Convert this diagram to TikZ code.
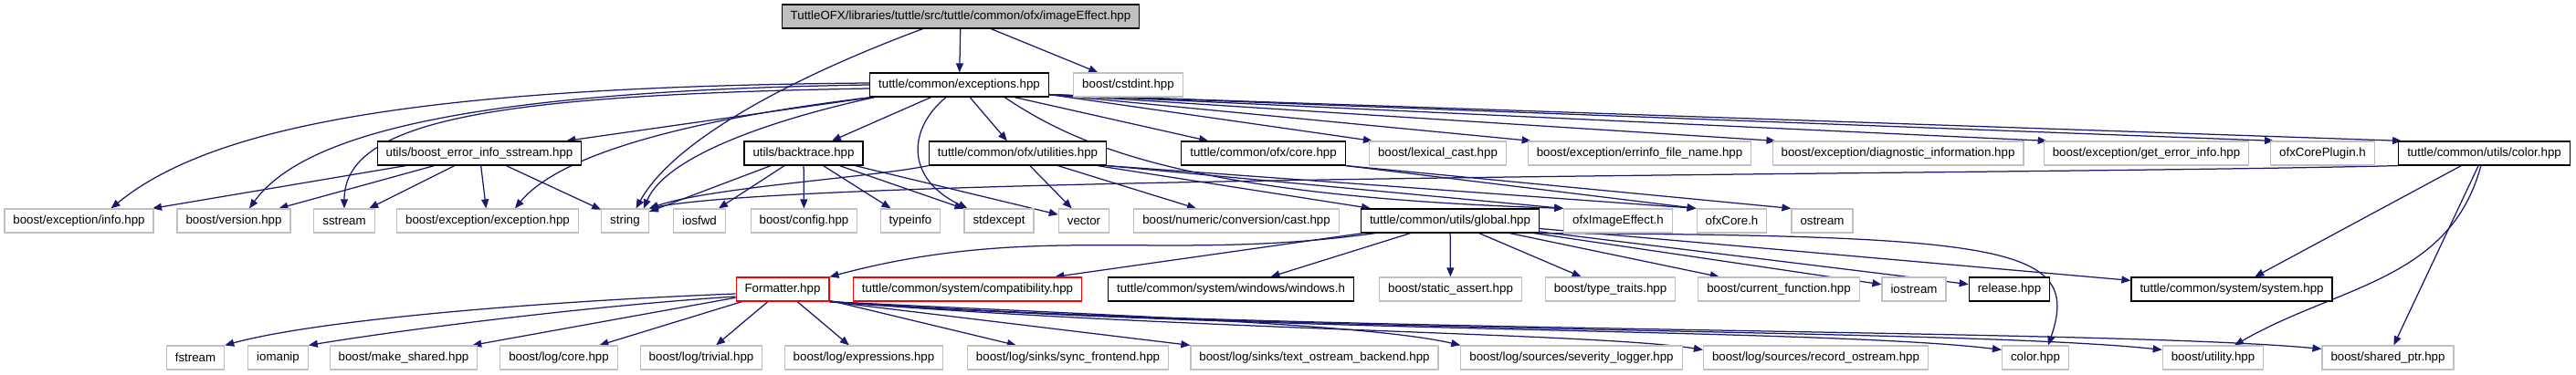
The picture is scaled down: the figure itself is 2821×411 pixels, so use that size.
\documentclass[tikz,border=0pt]{standalone}
\usepackage{fontspec}
\setmainfont{Liberation Sans}
\usetikzlibrary{positioning, arrows.meta, backgrounds}
\definecolor{edgeblue}{HTML}{191970}
\definecolor{extgrey}{HTML}{BFBFBF}

\begin{document}
\begin{tikzpicture}[
    x=1pt, y=-1pt,
    file/.style={rectangle, draw, line width=1.2pt, minimum height=26pt, inner xsep=9.5pt, inner ysep=0pt, fill=white, font=\fontsize{13.3}{15}\selectfont},
    main_file/.style={file, draw=black, fill=extgrey},
    doc_file/.style={file, draw=black},
    warn_file/.style={file, draw=red},
    ext_file/.style={file, draw=extgrey},
    dep_edge/.style={-{Triangle[length=10pt, width=8pt]}, draw=edgeblue, line width=1.25pt}
]
\useasboundingbox (0,0) rectangle (2821,411);

% row 1 and 2
\node[main_file] (main) at (1052,18) {TuttleOFX/libraries/tuttle/src/tuttle/common/ofx/imageEffect.hpp};
\node[doc_file] (exc) at (1050.5,93) {tuttle/common/exceptions.hpp};
\node[ext_file] (cstdint) at (1235.5,93) {boost/cstdint.hpp};

% row 3
\node[doc_file] (beis) at (525,168) {utils/boost\_error\_info\_sstream.hpp};
\node[doc_file] (bt) at (880,168) {utils/backtrace.hpp};
\node[doc_file] (util) at (1114.5,168) {tuttle/common/ofx/utilities.hpp};
\node[doc_file] (core) at (1383.5,168) {tuttle/common/ofx/core.hpp};
\node[ext_file] (lexcast) at (1574.5,168) {boost/lexical\_cast.hpp};
\node[ext_file] (errinfo) at (1795.5,168) {boost/exception/errinfo\_file\_name.hpp};
\node[ext_file] (diag) at (2078.5,168) {boost/exception/diagnostic\_information.hpp};
\node[ext_file] (geterr) at (2350.5,168) {boost/exception/get\_error\_info.hpp};
\node[ext_file] (plugin) at (2543.5,168) {ofxCorePlugin.h};
\node[doc_file] (color) at (2720.5,168) {tuttle/common/utils/color.hpp};

% row 4
\node[ext_file] (info) at (86.5,242) {boost/exception/info.hpp};
\node[ext_file] (version) at (256,242) {boost/version.hpp};
\node[ext_file] (sstream) at (377,242) {sstream};
\node[ext_file] (exception) at (534,242) {boost/exception/exception.hpp};
\node[ext_file] (string) at (684.5,242) {string};
\node[ext_file] (iosfwd) at (766,242) {iosfwd};
\node[ext_file] (config) at (880.5,242) {boost/config.hpp};
\node[ext_file] (typeinfo) at (997,242) {typeinfo};
\node[ext_file] (stdexcept) at (1094,242) {stdexcept};
\node[ext_file] (vector) at (1187,242) {vector};
\node[ext_file] (cast) at (1354,242) {boost/numeric/conversion/cast.hpp};
\node[doc_file] (global) at (1588,242) {tuttle/common/utils/global.hpp};
\node[ext_file] (imgfx) at (1772,242) {ofxImageEffect.h};
\node[ext_file] (ofxcore) at (1896.5,242) {ofxCore.h};
\node[ext_file] (ostream) at (1995.5,242) {ostream};

% row 5
\node[warn_file] (formatter) at (857,317) {Formatter.hpp};
\node[warn_file] (compat) at (1059.5,317) {tuttle/common/system/compatibility.hpp};
\node[doc_file] (windows) at (1348,317) {tuttle/common/system/windows/windows.h};
\node[ext_file] (sassert) at (1588.5,317) {boost/static\_assert.hpp};
\node[ext_file] (ttraits) at (1763.5,317) {boost/type\_traits.hpp};
\node[ext_file] (curfun) at (1948,317) {boost/current\_function.hpp};
\node[ext_file] (iostream) at (2096,317) {iostream};
\node[doc_file] (release) at (2200.5,317) {release.hpp};
\node[doc_file] (system) at (2444,317) {tuttle/common/system/system.hpp};

% row 6
\node[ext_file] (fstream) at (214,392) {fstream};
\node[ext_file] (iomanip) at (304.5,392) {iomanip};
\node[ext_file] (mkshared) at (442,392) {boost/make\_shared.hpp};
\node[ext_file] (logcore) at (612,392) {boost/log/core.hpp};
\node[ext_file] (trivial) at (768,392) {boost/log/trivial.hpp};
\node[ext_file] (expr) at (946,392) {boost/log/expressions.hpp};
\node[ext_file] (syncfe) at (1169.5,392) {boost/log/sinks/sync\_frontend.hpp};
\node[ext_file] (textbe) at (1439.5,392) {boost/log/sinks/text\_ostream\_backend.hpp};
\node[ext_file] (sevlog) at (1721,392) {boost/log/sources/severity\_logger.hpp};
\node[ext_file] (recostr) at (1988.5,392) {boost/log/sources/record\_ostream.hpp};
\node[ext_file] (colorh) at (2229,392) {color.hpp};
\node[ext_file] (utility) at (2423.5,392) {boost/utility.hpp};
\node[ext_file] (sharedptr) at (2615,392) {boost/shared\_ptr.hpp};

\begin{scope}[on background layer]
% main file
\draw[dep_edge] (main) -- (exc);
\draw[dep_edge] (main) -- (cstdint);
\draw[dep_edge] ([xshift=155pt]main.south west) .. controls (880,80) and (740,150) .. ([xshift=12pt]string.north);

% exceptions.hpp
\draw[dep_edge] ([yshift=2pt]exc.west) .. controls (450,95) and (230,140) .. ([xshift=35pt]info.north);
\draw[dep_edge] (exc.west) .. controls (500,100) and (330,150) .. ([xshift=17pt]version.north);
\draw[dep_edge] ([yshift=-4pt]exc.west) .. controls (550,104) and (377,130) .. (sstream.north);
\draw[dep_edge] (exc) -- (beis);
\draw[dep_edge] ([xshift=2pt]exc.south west) .. controls (800,125) and (620,160) .. ([xshift=30pt]exception.north);
\draw[dep_edge] ([xshift=6pt]exc.south west) .. controls (850,130) and (730,170) .. ([xshift=-6pt]string.north east);
\draw[dep_edge] ([xshift=84pt]exc.south west) .. controls (995,140) and (990,195) .. ([xshift=4pt]stdexcept.north west);
\draw[dep_edge] (exc) -- (bt);
\draw[dep_edge] (exc) -- (util);
\draw[dep_edge] (exc) -- (core);
\foreach \dst in {lexcast, errinfo, diag, geterr, plugin, color}
  \draw[dep_edge] ([yshift=3pt]exc.south east) -- ([xshift=4pt]\dst.north west);
\draw[dep_edge] ([xshift=148pt]exc.south west) .. controls (1180,160) and (1300,215) .. (imgfx.north west);

% boost_error_info_sstream.hpp
\foreach \dst in {info, version, sstream, exception, string}
  \draw[dep_edge] (beis) -- (\dst);

% backtrace.hpp
\foreach \dst in {string, iosfwd, config, typeinfo, stdexcept, vector}
  \draw[dep_edge] (bt) -- (\dst);

% utilities.hpp
\draw[dep_edge] (util.south west) .. controls (950,195) and (780,205) .. (string.north east);
\foreach \dst in {vector, cast, global}
  \draw[dep_edge] (util) -- (\dst);
\draw[dep_edge] (util.south east) -- (imgfx.north west);
\draw[dep_edge] (util.south east) -- (ofxcore.north west);

% core.hpp
\draw[dep_edge] (core.south east) -- (ofxcore.north west);
\draw[dep_edge] (core.south east) -- (ostream.north west);

% color.hpp
\draw[dep_edge] (color.south west) .. controls (2200,192) and (900,192) .. (string.north east);
\draw[dep_edge] (color) -- (system);
\draw[dep_edge] (color) to[out=-105, in=30] (utility);
\draw[dep_edge] (color) -- (sharedptr);

% global.hpp
\draw[dep_edge] ([xshift=16pt]global.south west) to[out=-172, in=15] (formatter.north east);
\foreach \dst in {compat, windows, sassert, ttraits, curfun, iostream, release, system}
  \draw[dep_edge] (global) -- (\dst);
\draw[dep_edge] (global.south east) .. controls (2200,258) and (2280,270) .. ([xshift=14pt]colorh.north);

% Formatter.hpp
\draw[dep_edge] ([yshift=-5pt]formatter.west) .. controls (600,330) and (350,350) .. (fstream.north east);
\draw[dep_edge] ([yshift=-8pt]formatter.west) .. controls (650,335) and (450,360) .. (iomanip.north east);
\foreach \dst in {mkshared, logcore, trivial, expr, syncfe}
  \draw[dep_edge] (formatter) -- (\dst);
\draw[dep_edge] (formatter.south east) -- (textbe.north west);
\draw[dep_edge] (formatter.south east) .. controls (1200,345) and (1500,355) .. (sevlog.north west);
\draw[dep_edge] (formatter.south east) .. controls (1300,362) and (1750,365) .. ([yshift=-5pt]recostr.north west);
\draw[dep_edge] (formatter.south east) .. controls (1400,365) and (2000,360) .. ([yshift=-5pt]colorh.north west);
\draw[dep_edge] (formatter.south east) .. controls (1400,365) and (2150,360) .. ([yshift=-5pt]utility.north west);
\draw[dep_edge] (formatter.south east) .. controls (1400,365) and (2300,360) .. ([yshift=-4pt]sharedptr.north west);
\end{scope}
\end{tikzpicture}
\end{document}
